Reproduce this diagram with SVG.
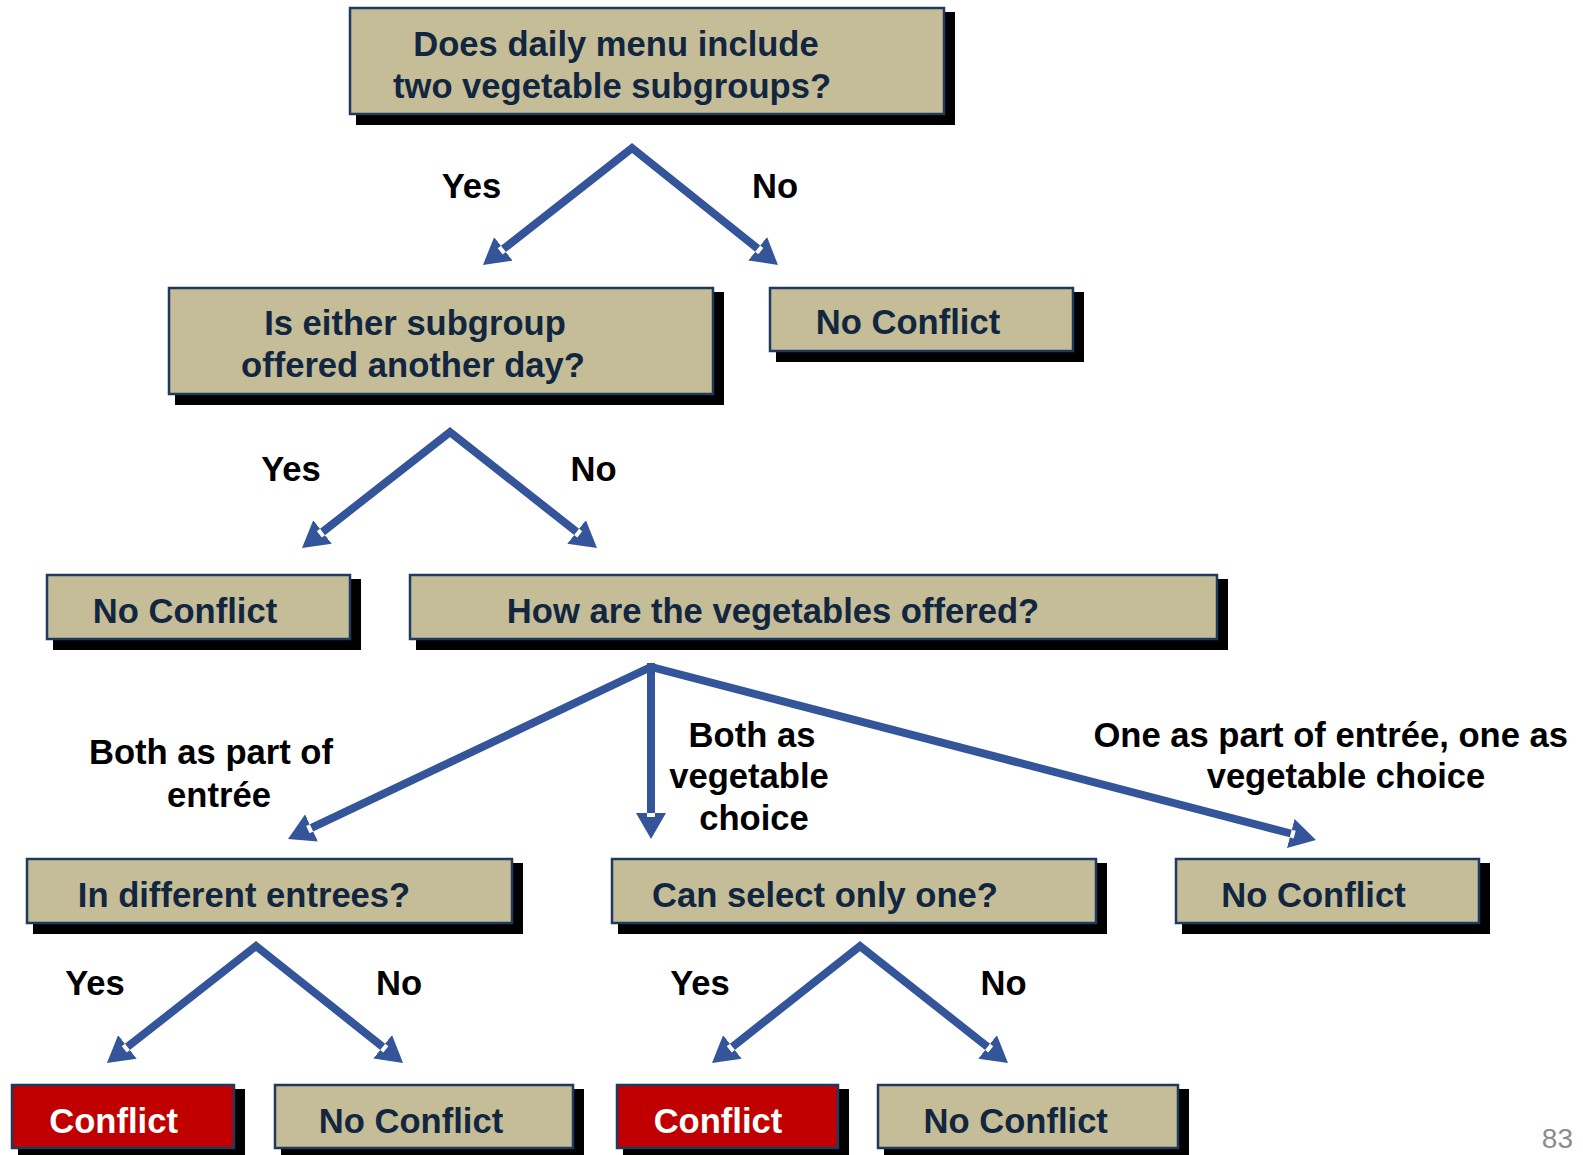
<svg xmlns="http://www.w3.org/2000/svg" width="1583" height="1155" viewBox="0 0 1583 1155">
<defs>
<style>
.sh{fill:#000}
.bx{fill:#c4bd97;stroke:#1f3a5f;stroke-width:2.5}
.rd{fill:#c00000;stroke:#1f3a5f;stroke-width:2.5}
.t{font-family:"Liberation Sans",Arial,sans-serif;font-weight:bold;font-size:34.6px;text-anchor:middle}
.nv{fill:#12263f}
.wh{fill:#fff}
.lb{fill:#000}
.cn{fill:none;stroke:#34559a;stroke-width:8;stroke-linejoin:miter;stroke-miterlimit:10}
.pg{font-family:"Liberation Sans",Arial,sans-serif;font-size:28px;fill:#8c8c8c;text-anchor:end}
</style>
<marker id="ah" viewBox="0 0 26 30" refX="0" refY="15" markerWidth="26" markerHeight="30" markerUnits="userSpaceOnUse" orient="auto-start-reverse">
<path d="M0,0 L26,15 L0,30 Z" fill="#34559a"/>
<rect x="0" y="11" width="4" height="8" fill="#fff"/>
</marker>
</defs>

<g id="connectors">
<path class="cn" d="M503.4,248.9 L632,148 L757.7,248.7" marker-start="url(#ah)" marker-end="url(#ah)"/>
<path class="cn" d="M322.5,532 L450,432 L576.6,531.9" marker-start="url(#ah)" marker-end="url(#ah)"/>
<path class="cn" d="M311.5,827.9 L651,667 L1290.8,833.5" marker-start="url(#ah)" marker-end="url(#ah)"/>
<path class="cn" d="M651,663 L651,813" marker-end="url(#ah)"/>
<path class="cn" d="M127.4,1046.9 L256,946 L382.7,1046.8" marker-start="url(#ah)" marker-end="url(#ah)"/>
<path class="cn" d="M732.4,1046.9 L860,946 L987.6,1046.9" marker-start="url(#ah)" marker-end="url(#ah)"/>
</g>

<g id="edge-labels">
<text class="t lb" x="471.5" y="198">Yes</text>
<text class="t lb" x="775" y="198">No</text>
<text class="t lb" x="291" y="480.5">Yes</text>
<text class="t lb" x="593.6" y="480.5">No</text>
<text class="t lb" x="211" y="764">Both as part of</text>
<text class="t lb" x="219" y="806.5">entrée</text>
<text class="t lb" x="752" y="747">Both as</text>
<text class="t lb" x="749" y="788.4">vegetable</text>
<text class="t lb" x="754" y="829.8">choice</text>
<text class="t lb" x="1330.7" y="747">One as part of entrée, one as</text>
<text class="t lb" x="1346" y="788.4">vegetable choice</text>
<text class="t lb" x="95" y="995.3">Yes</text>
<text class="t lb" x="399" y="995.3">No</text>
<text class="t lb" x="700" y="995.3">Yes</text>
<text class="t lb" x="1003.5" y="995.3">No</text>
</g>

<g id="n-top">
<rect class="sh" x="356" y="12" width="599" height="113"/>
<rect class="bx" x="350" y="8" width="594" height="106"/>
<text class="t nv" x="616" y="55.5">Does daily menu include</text>
<text class="t nv" x="612" y="97.5">two vegetable subgroups?</text>
</g>

<g id="n-either">
<rect class="sh" x="175" y="292" width="549" height="113"/>
<rect class="bx" x="169" y="288" width="544" height="106"/>
<text class="t nv" x="415" y="335">Is either subgroup</text>
<text class="t nv" x="413" y="376.5">offered another day?</text>
</g>

<g id="n-noconflict-1">
<rect class="sh" x="776" y="292" width="308" height="70"/>
<rect class="bx" x="770" y="288" width="303" height="63"/>
<text class="t nv" x="908" y="334">No Conflict</text>
</g>

<g id="n-noconflict-2">
<rect class="sh" x="53" y="579" width="308" height="71"/>
<rect class="bx" x="47" y="575" width="303" height="64"/>
<text class="t nv" x="185" y="623">No Conflict</text>
</g>

<g id="n-how">
<rect class="sh" x="416" y="579" width="812" height="71"/>
<rect class="bx" x="410" y="575" width="807" height="64"/>
<text class="t nv" x="773" y="623">How are the vegetables offered?</text>
</g>

<g id="n-different">
<rect class="sh" x="33" y="863" width="490" height="71"/>
<rect class="bx" x="27" y="859" width="485" height="64"/>
<text class="t nv" x="244" y="906.5">In different entrees?</text>
</g>

<g id="n-select">
<rect class="sh" x="618" y="863" width="489" height="71"/>
<rect class="bx" x="612" y="859" width="484" height="64"/>
<text class="t nv" x="825" y="906.5">Can select only one?</text>
</g>

<g id="n-noconflict-3">
<rect class="sh" x="1182" y="863" width="308" height="71"/>
<rect class="bx" x="1176" y="859" width="303" height="64"/>
<text class="t nv" x="1313.5" y="906.5">No Conflict</text>
</g>

<g id="n-conflict-1">
<rect class="sh" x="18" y="1089" width="227" height="70"/>
<rect class="rd" x="12" y="1085" width="222" height="63"/>
<text class="t wh" x="113.6" y="1132.5">Conflict</text>
</g>

<g id="n-noconflict-4">
<rect class="sh" x="281" y="1089" width="303" height="70"/>
<rect class="bx" x="275" y="1085" width="298" height="63"/>
<text class="t nv" x="411" y="1132.5">No Conflict</text>
</g>

<g id="n-conflict-2">
<rect class="sh" x="623" y="1089" width="226" height="70"/>
<rect class="rd" x="617" y="1085" width="221" height="63"/>
<text class="t wh" x="718" y="1132.5">Conflict</text>
</g>

<g id="n-noconflict-5">
<rect class="sh" x="884" y="1089" width="305" height="70"/>
<rect class="bx" x="878" y="1085" width="300" height="63"/>
<text class="t nv" x="1015.7" y="1132.5">No Conflict</text>
</g>

<text class="pg" x="1573" y="1148">83</text>
</svg>
